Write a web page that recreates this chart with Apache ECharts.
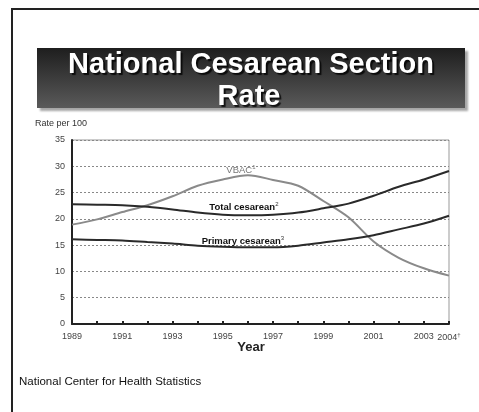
<!DOCTYPE html>
<html>
<head>
<meta charset="utf-8">
<script src="https://cdn.jsdelivr.net/npm/echarts@6/dist/echarts.min.js"></script>
<style>
  html, body { margin: 0; padding: 0; background: #fff; }
  #chart { width: 479px; height: 412px; }
</style>
</head>
<body>
<div id="chart"></div>
<script>
// Years on the horizontal axis
var years = [1989, 1990, 1991, 1992, 1993, 1994, 1995, 1996, 1997, 1998, 1999, 2000, 2001, 2002, 2003, 2004];
// Rates per 100 live births
var totalCesarean   = [22.8, 22.7, 22.6, 22.3, 21.8, 21.2, 20.8, 20.7, 20.8, 21.2, 22.0, 22.9, 24.4, 26.1, 27.5, 29.1];
var primaryCesarean = [16.1, 16.0, 15.9, 15.6, 15.3, 14.9, 14.7, 14.6, 14.6, 14.9, 15.5, 16.1, 16.9, 18.0, 19.1, 20.6];
var vbac            = [18.9, 19.9, 21.3, 22.6, 24.3, 26.3, 27.5, 28.3, 27.4, 26.3, 23.4, 20.3, 15.7, 12.6, 10.6, 9.2];
// Year labels shown under the axis
var yearLabels = ['1989', '1991', '1993', '1995', '1997', '1999', '2001', '2003', '2004'];
var yTicks = [0, 5, 10, 15, 20, 25, 30, 35];

function pairs(vals) {
  return years.map(function (y, i) { return [y, vals[i]]; });
}

var FONT = '"Liberation Sans", Arial, sans-serif';
var chart = echarts.init(document.getElementById('chart'), null, { renderer: 'canvas' });

function lineLabel(coord, rich, text) {
  return {
    symbol: 'circle',
    symbolSize: 0,
    silent: true,
    data: [{ coord: coord }],
    label: {
      show: true,
      position: 'inside',
      formatter: text,
      rich: rich
    }
  };
}

var darkRich = {
  b: { fontFamily: FONT, fontWeight: 'bold', fontSize: 9.5, color: '#111' },
  s: { fontFamily: FONT, fontSize: 6, color: '#333', verticalAlign: 'top', padding: [0, 0, 6, 0] }
};
var grayRich = {
  g: { fontFamily: FONT, fontSize: 9.5, color: '#777' },
  s: { fontFamily: FONT, fontSize: 6, color: '#777', verticalAlign: 'top', padding: [0, 0, 6, 0] }
};

chart.setOption({
  animation: false,
  backgroundColor: '#fff',
  grid: {
    left: 72, right: 30, top: 140, bottom: 88,
    show: true, borderColor: '#999', borderWidth: 1, backgroundColor: 'transparent'
  },
  xAxis: {
    type: 'value',
    min: 1989, max: 2004, interval: 1,
    axisLine: { show: true, lineStyle: { color: '#222', width: 2 } },
    axisTick: { show: true, inside: true, length: 3, lineStyle: { color: '#222', width: 2 } },
    splitLine: { show: false },
    axisLabel: {
      fontFamily: FONT, fontSize: 9, color: '#444', margin: 8,
      formatter: function (v) {
        var s = String(v);
        if (yearLabels.indexOf(s) < 0) return '';
        return s === '2004' ? '{n|2004}{s|†}' : s;
      },
      rich: {
        n: { fontFamily: FONT, fontSize: 9, color: '#444' },
        s: { fontFamily: FONT, fontSize: 6, color: '#444', verticalAlign: 'top', padding: [0, 0, 6, 0] }
      }
    }
  },
  yAxis: {
    type: 'value',
    min: yTicks[0], max: yTicks[yTicks.length - 1], interval: 5,
    axisLine: { show: true, lineStyle: { color: '#222', width: 2 } },
    axisTick: { show: false },
    axisLabel: { fontFamily: FONT, fontSize: 9, color: '#444', margin: 7 },
    splitLine: { show: true, lineStyle: { color: '#888', type: [2, 2], width: 1 } }
  },
  series: [
    {
      name: 'Total cesarean',
      type: 'line',
      data: pairs(totalCesarean),
      smooth: 0.3,
      showSymbol: false,
      z: 3,
      lineStyle: { color: '#2a2a2a', width: 2 },
      markPoint: lineLabel([1995.84, 22.1], darkRich, '{b|Total cesarean}{s|2}')
    },
    {
      name: 'Primary cesarean',
      type: 'line',
      data: pairs(primaryCesarean),
      smooth: 0.3,
      showSymbol: false,
      z: 3,
      lineStyle: { color: '#2a2a2a', width: 2 },
      markPoint: lineLabel([1995.80, 15.8], darkRich, '{b|Primary cesarean}{s|3}')
    },
    {
      name: 'VBAC',
      type: 'line',
      data: pairs(vbac),
      smooth: 0.3,
      showSymbol: false,
      z: 2,
      lineStyle: { color: '#8a8a8a', width: 2 },
      markPoint: lineLabel([1995.72, 29.3], grayRich, '{g|VBAC}{s|1}')
    }
  ],
  graphic: [
    // slide frame
    { type: 'rect', shape: { x: 11, y: 8, width: 470, height: 2 }, style: { fill: '#222' }, silent: true },
    { type: 'rect', shape: { x: 11, y: 8, width: 2, height: 406 }, style: { fill: '#222' }, silent: true },
    // title banner
    {
      type: 'rect',
      shape: { x: 37, y: 48, width: 428, height: 60 },
      style: {
        fill: new echarts.graphic.LinearGradient(0, 0, 0, 1, [
          { offset: 0, color: '#1e1e1e' },
          { offset: 1, color: '#5a5a5a' }
        ]),
        shadowColor: 'rgba(0,0,0,0.35)', shadowBlur: 2, shadowOffsetX: 3, shadowOffsetY: 3
      },
      silent: true
    },
    {
      type: 'text', x: 251, y: 65,
      style: {
        text: 'National Cesarean Section', fill: '#fff', font: 'bold 29px ' + FONT,
        textAlign: 'center', textVerticalAlign: 'middle',
        textShadowColor: 'rgba(0,0,0,0.8)', textShadowBlur: 1, textShadowOffsetX: 2, textShadowOffsetY: 2
      },
      silent: true
    },
    {
      type: 'text', x: 249, y: 97,
      style: {
        text: 'Rate', fill: '#fff', font: 'bold 29px ' + FONT,
        textAlign: 'center', textVerticalAlign: 'middle',
        textShadowColor: 'rgba(0,0,0,0.8)', textShadowBlur: 1, textShadowOffsetX: 2, textShadowOffsetY: 2
      },
      silent: true
    },
    {
      type: 'text', x: 35, y: 124,
      style: { text: 'Rate per 100', fill: '#333', font: '9px ' + FONT, textVerticalAlign: 'middle' },
      silent: true
    },
    {
      type: 'text', x: 251, y: 347,
      style: { text: 'Year', fill: '#222', font: 'bold 13px ' + FONT, textAlign: 'center', textVerticalAlign: 'middle' },
      silent: true
    },
    {
      type: 'text', x: 19, y: 382,
      style: { text: 'National Center for Health Statistics', fill: '#111', font: '11.5px ' + FONT, textVerticalAlign: 'middle' },
      silent: true
    }
  ]
});
</script>
</body>
</html>
